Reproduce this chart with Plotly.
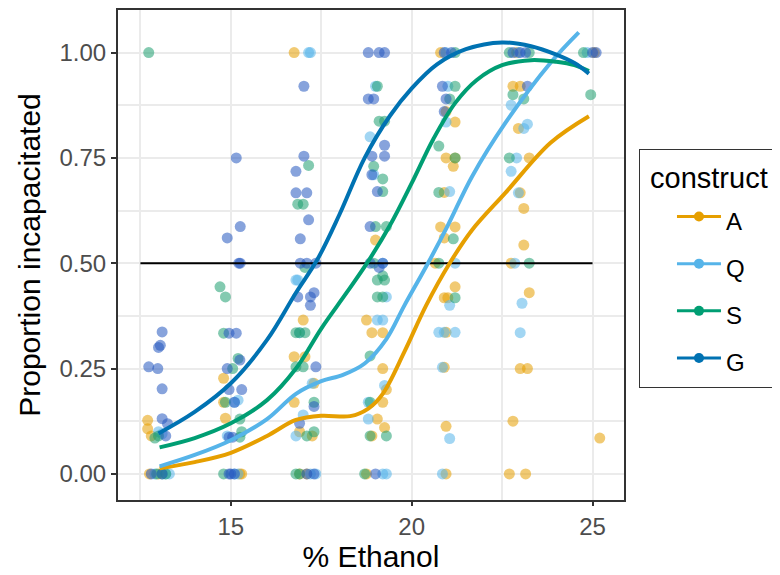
import plotly.graph_objects as go

constructs = ["A", "Q", "S", "G"]
line_colors = {"A": "#E69F00", "Q": "#56B4E9", "S": "#009E73", "G": "#0072B2"}
point_colors = {"A": "#E69F00", "Q": "#56B4E9", "S": "#1E9E70", "G": "#2458C0"}

# jittered observations (x = % ethanol with jitter, y = proportion incapacitated)
A_x = [12.7, 12.7, 12.8, 12.75, 13.0,
       14.8, 14.85, 14.8, 15.3, 15.25,
       16.75, 17.0, 16.75, 17.05, 17.3, 16.75, 16.9, 17.25, 17.1, 16.9,
       19.0, 18.75, 18.9, 19.2, 19.2, 19.3, 19.2, 19.05, 19.25, 18.9, 18.75,
       20.8, 20.95, 21.2, 20.95, 21.2, 21.15, 20.9, 20.8, 21.2, 20.9, 20.65, 21.2, 20.9, 21.0, 20.95, 20.9, 20.95, 20.95,
       22.9, 22.8, 23.0, 22.95, 23.25, 23.0, 23.1, 23.1, 22.75, 23.25, 23.0, 23.2, 22.8, 22.7, 23.15,
       25.05, 25.2]
A_y = [0.127, 0.107, 0.09, 0.0, 0.0,
       0.227, 0.132, 0.17, 0.0, 0.0,
       1.0, 0.365, 0.278, 0.278, 0.215, 0.17, 0.1, 0.09, 0.0, 0.0,
       0.555, 0.365, 0.335, 0.335, 0.25, 0.2, 0.17, 0.13, 0.11, 0.09, 0.0,
       1.0, 0.86, 0.835, 0.75, 0.75, 0.73, 0.668, 0.586, 0.586, 0.56, 0.5, 0.444, 0.418, 0.418, 0.336, 0.253, 0.113, 0.0,
       1.0, 0.92, 0.92, 0.82, 0.75, 0.667, 0.63, 0.543, 0.5, 0.43, 0.25, 0.25, 0.125, 0.0, 0.0,
       1.0, 0.085]

Q_x = [13.0, 13.1, 13.2, 13.3, 12.9,
       15.1, 15.2, 14.9, 15.1, 15.2,
       17.15, 17.2, 16.8, 16.85, 16.9, 17.25, 17.0, 16.8, 17.2, 17.35,
       19.0, 18.85, 18.95, 19.2, 19.3, 19.05, 19.2, 19.25, 18.8, 18.8, 19.2, 19.3,
       20.95, 21.0, 20.95, 21.05, 21.2, 21.05, 20.75, 20.9, 21.2, 20.85, 21.05, 20.85,
       22.95, 22.75, 23.2, 23.1, 22.9, 22.75, 22.95, 22.85, 23.05, 23.0,
       24.85]
Q_y = [0.1, 0.095, 0.0, 0.0, 0.0,
       0.17, 0.175, 0.09, 0.0, 0.0,
       1.0, 1.0, 0.46, 0.46, 0.335, 0.215, 0.14, 0.09, 0.0, 0.0,
       0.92, 0.8, 0.71, 0.5, 0.42, 0.365, 0.365, 0.21, 0.17, 0.13, 0.0, 0.0,
       1.0, 0.92, 0.835, 0.67, 0.5, 0.4, 0.336, 0.336, 0.336, 0.253, 0.084, 0.0,
       1.0, 0.875, 0.83, 0.82, 0.75, 0.718, 0.667, 0.5, 0.405, 0.335,
       1.0]

S_x = [12.73, 13.0, 12.9, 13.1, 13.2, 12.95,
       14.7, 14.85, 14.8, 15.2, 15.05, 14.85, 15.25, 15.3, 15.25, 14.8,
       17.15, 16.85, 17.0, 17.05, 16.8, 16.9, 17.05, 16.8, 17.0, 17.3, 17.1, 17.3, 16.8, 16.9,
       19.05, 19.1, 19.25, 18.95, 19.2, 19.2, 19.0, 19.3, 18.95, 19.05, 19.25, 19.2, 19.05, 19.2, 18.85, 18.85, 18.85, 19.3, 18.7,
       21.2, 21.2, 21.05, 20.75, 21.2, 20.75, 21.15, 20.75, 21.2,
       22.7, 23.25, 22.8, 23.1, 22.7, 23.25,
       24.75, 24.95]
S_y = [1.0, 0.09, 0.085, 0.0, 0.0, 0.0,
       0.444, 0.42, 0.334, 0.274, 0.25, 0.17, 0.13, 0.1, 0.087, 0.0,
       0.732, 0.64, 0.64, 0.49, 0.335, 0.335, 0.335, 0.254, 0.254, 0.17, 0.09, 0.1, 0.0, 0.0,
       0.92, 0.837, 0.837, 0.73, 0.7, 0.67, 0.587, 0.587, 0.5, 0.46, 0.46, 0.47, 0.42, 0.42, 0.28, 0.17, 0.09, 0.09, 0.0,
       1.0, 0.92, 0.89, 0.778, 0.75, 0.668, 0.558, 0.5, 0.418,
       1.0, 1.0, 0.9, 0.89, 0.75, 0.5,
       1.0, 0.9]

G_x = [13.1, 13.0, 13.05, 12.73, 12.98, 13.1, 13.1, 13.25, 13.2, 12.8, 13.1,
       15.15, 15.26, 14.9, 15.26, 15.22, 14.95, 15.15, 15.25, 14.9, 14.95, 15.3, 15.1, 14.95, 15.05, 14.95, 15.0, 15.1,
       17.02, 17.02, 16.8, 16.8, 17.1, 17.15, 16.92, 16.92, 17.1, 17.35, 16.85, 17.2, 17.3, 17.2, 17.35, 17.3, 16.9, 17.1, 17.3,
       18.8, 19.1, 19.25, 18.8, 18.95, 19.25, 18.9, 19.25, 18.9, 19.05, 18.85, 18.85, 19.2, 19.1, 19.0,
       20.9, 20.85, 20.95, 20.9, 21.1,
       23.0, 23.15, 23.2, 22.8,
       25.1, 25.0]
G_y = [0.337, 0.30, 0.305, 0.254, 0.25, 0.202, 0.131, 0.119, 0.09, 0.0, 0.0,
       0.75, 0.587, 0.56, 0.5, 0.5, 0.334, 0.334, 0.27, 0.25, 0.2, 0.2, 0.17, 0.087, 0.087, 0.0, 0.0, 0.0,
       0.92, 0.754, 0.718, 0.667, 0.667, 0.603, 0.558, 0.5, 0.5, 0.5, 0.42, 0.42, 0.43, 0.40, 0.254, 0.16, 0.12, 0.0, 0.0,
       1.0, 1.0, 1.0, 0.89, 0.89, 0.78, 0.754, 0.754, 0.71, 0.67, 0.587, 0.5, 0.5, 0.49, 0.0,
       1.0, 0.92, 0.89, 0.86, 1.0,
       1.0, 1.0, 0.92, 1.0,
       1.0, 1.0]

# smoothed fits
A_fit_x = [13.03, 14.0, 15.0, 16.0, 16.8, 17.5, 18.3, 18.8, 19.2, 19.8, 20.4, 21.05, 21.67, 22.59, 23.84, 24.9]
A_fit_y = [0.013, 0.028, 0.05, 0.09, 0.128, 0.138, 0.137, 0.155, 0.19, 0.29, 0.40, 0.50, 0.579, 0.667, 0.786, 0.849]
Q_fit_x = [13.03, 14.0, 15.0, 16.0, 16.8, 17.5, 18.1, 18.7, 19.3, 19.8, 20.45, 21.0, 21.67, 22.59, 23.84, 24.62]
Q_fit_y = [0.018, 0.045, 0.08, 0.13, 0.19, 0.22, 0.235, 0.262, 0.32, 0.40, 0.50, 0.59, 0.706, 0.833, 0.976, 1.048]
S_fit_x = [13.03, 14.0, 15.0, 16.0, 16.8, 17.5, 18.2, 18.8, 19.4, 20.0, 20.6, 21.2, 21.8, 22.5, 23.3, 24.0, 24.5, 24.9]
S_fit_y = [0.063, 0.085, 0.12, 0.175, 0.25, 0.345, 0.43, 0.505, 0.59, 0.69, 0.795, 0.88, 0.935, 0.97, 0.982, 0.978, 0.97, 0.956]
G_fit_x = [13.0, 14.0, 15.0, 16.0, 16.8, 17.4, 18.0, 18.7, 19.4, 20.0, 20.7, 21.5, 22.5, 23.3, 24.0, 24.5, 24.9]
G_fit_y = [0.096, 0.147, 0.215, 0.318, 0.43, 0.51, 0.615, 0.75, 0.85, 0.915, 0.972, 1.008, 1.024, 1.015, 0.995, 0.975, 0.95]

ref_x = [12.5, 25.0]
ref_y = [0.5, 0.5]

x_ticks = [15, 20, 25]
y_ticks = [0.0, 0.25, 0.5, 0.75, 1.0]
y_ticklabels = ["0.00", "0.25", "0.50", "0.75", "1.00"]

points = {"A": (A_x, A_y), "Q": (Q_x, Q_y), "S": (S_x, S_y), "G": (G_x, G_y)}
fits = {"A": (A_fit_x, A_fit_y), "Q": (Q_fit_x, Q_fit_y), "S": (S_fit_x, S_fit_y), "G": (G_fit_x, G_fit_y)}

FONT = "Liberation Sans, Arial, Helvetica, sans-serif"
fig = go.Figure()

for c in constructs:
    px, py = points[c]
    fig.add_trace(go.Scatter(x=px, y=py, mode="markers", showlegend=False, hoverinfo="skip",
                             marker=dict(size=11, color=point_colors[c], opacity=0.55, line=dict(width=0))))

fig.add_trace(go.Scatter(x=ref_x, y=ref_y, mode="lines", showlegend=False,
                         line=dict(color="black", width=2)))

for c in constructs:
    fx, fy = fits[c]
    fig.add_trace(go.Scatter(x=fx, y=fy, mode="lines", showlegend=False,
                             line=dict(color=line_colors[c], width=4, shape="spline", smoothing=1.0)))

for c in constructs:
    fig.add_trace(go.Scatter(x=[None], y=[None], mode="lines+markers",
                             name="<span style='font-size:24px'>%s</span>" % c, legendgroup=c,
                             line=dict(color=line_colors[c], width=3),
                             marker=dict(size=10, color=line_colors[c])))

# the page body adds an 8px offset, so the figure is sized to fill the rest of the window
fig.update_layout(
    width=772, height=567,
    margin=dict(l=110, r=156, t=2, b=75, autoexpand=False),
    paper_bgcolor="white", plot_bgcolor="white",
    font=dict(family=FONT, color="#000000"),
    showlegend=True,
    legend=dict(
        title=dict(text="\u00a0construct\u00a0", font=dict(size=29, color="black")),
        font=dict(size=34, color="black"),
        x=1.0296, xanchor="left", y=0.716, yanchor="top",
        bordercolor="#333333", borderwidth=1, bgcolor="white",
        tracegroupgap=0, itemwidth=44, indentation=32,
    ),
    xaxis=dict(
        range=[11.88, 25.87], tickvals=x_ticks, ticktext=[str(v) for v in x_ticks],
        showgrid=True, gridcolor="#ebebeb", gridwidth=2,
        minor=dict(dtick=2.5, tick0=0, showgrid=True, gridcolor="#ebebeb", gridwidth=1.5),
        showline=True, mirror=True, linecolor="#333333", linewidth=2,
        ticks="outside", ticklen=4, tickwidth=2, tickcolor="#333333",
        tickfont=dict(size=24, color="#4d4d4d"), zeroline=False, automargin=False,
        title=dict(text="% Ethanol", font=dict(size=30, color="black"), standoff=5),
    ),
    yaxis=dict(
        range=[-0.062, 1.101], tickvals=y_ticks, ticktext=y_ticklabels,
        showgrid=True, gridcolor="#ebebeb", gridwidth=2,
        minor=dict(dtick=0.125, tick0=0, showgrid=True, gridcolor="#ebebeb", gridwidth=1.5),
        showline=True, mirror=True, linecolor="#333333", linewidth=2,
        ticks="outside", ticklen=5, tickwidth=2, tickcolor="#333333",
        tickfont=dict(size=24, color="#4d4d4d"), zeroline=False, automargin=False,
        title=dict(text="Proportion incapacitated", font=dict(size=30, color="black"), standoff=10),
    ),
)

fig.write_html("out.html")
